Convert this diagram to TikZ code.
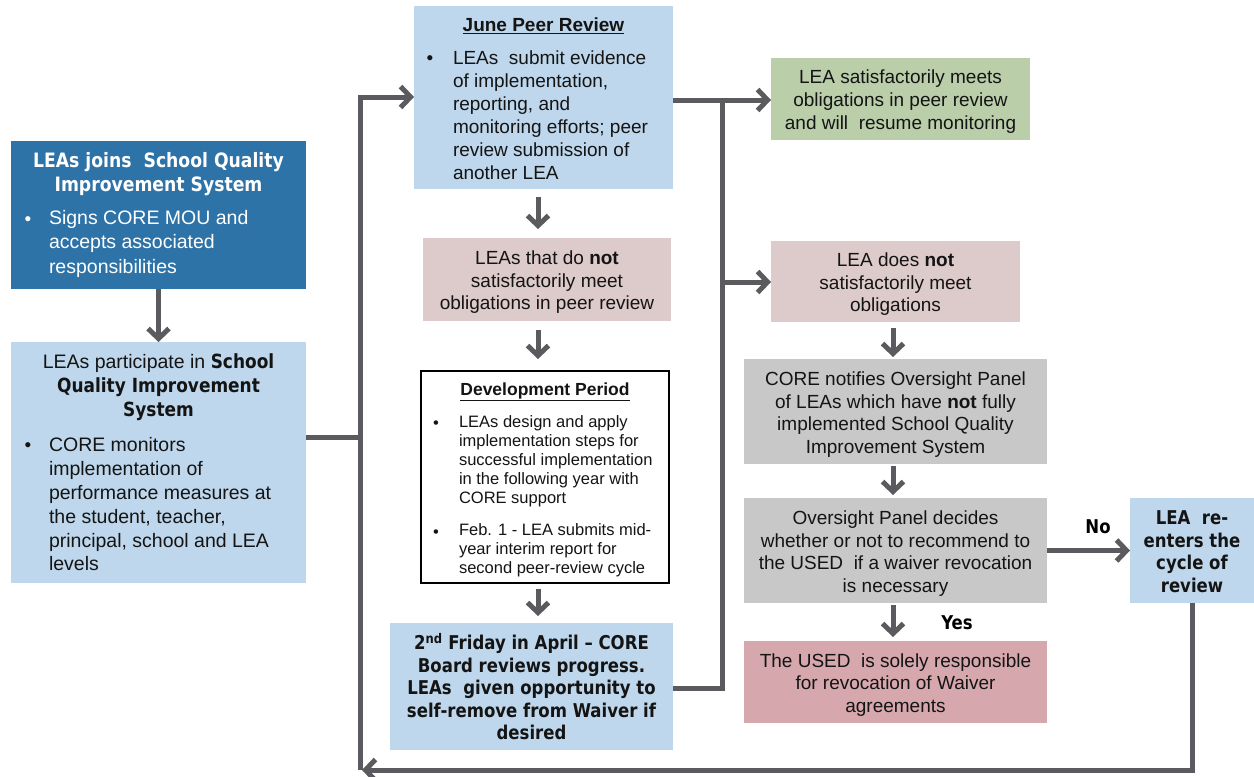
\documentclass[tikz,border=0pt]{standalone}
\usepackage{fontspec}
\setmainfont{Liberation Sans}
\newfontfamily\tahfam{DejaVu Sans}[FakeStretch=0.87]
\newcommand\tahb[1]{{\tahfam\bfseries #1}}
\newcommand\fsr{\rule{0pt}{19.5pt}}
\newcommand\fsb{\rule{0pt}{16.5pt}}
\usetikzlibrary{arrows.meta}
\definecolor{dkblue}{RGB}{46,115,168}
\definecolor{ltblue}{RGB}{190,215,236}
\definecolor{pinkbox}{RGB}{221,202,202}
\definecolor{greenbox}{RGB}{186,206,170}
\definecolor{graybox}{RGB}{200,200,200}
\definecolor{rosebox}{RGB}{214,168,173}
\definecolor{lc}{RGB}{90,90,95}
\definecolor{txt}{RGB}{20,20,20}
\begin{document}
\begin{tikzpicture}[x=1pt,y=-1pt,
  box/.style={draw=none, inner sep=0pt, outer sep=0pt, anchor=north west, align=center, text=txt,
              font=\fontsize{19}{22.5}\selectfont},
  tx/.style={inner sep=0pt, outer sep=0pt, align=center, text=txt, font=\fontsize{19}{23}\selectfont},
  conn/.style={draw=lc, line width=5pt},
  arr/.style={conn, -{Straight Barb[length=10pt,width=21pt]}},
  lbl/.style={inner sep=0pt, text=black, font=\fontsize{19}{23}\selectfont\tahfam\bfseries},
]
\useasboundingbox (0,0) rectangle (1254,777);

% ---------- boxes ----------
\node[box, fill=dkblue, minimum width=295pt, minimum height=148pt] (A) at (11,141) {};
\node[box, fill=ltblue, minimum width=295pt, minimum height=241pt] (B) at (11,342) {};
\node[box, fill=ltblue, minimum width=259pt, minimum height=183pt] (C) at (414,6) {};
\node[box, fill=pinkbox, minimum width=248pt, minimum height=83pt] (D) at (423,238)
  {\fsr LEAs that do \textbf{not}\\satisfactorily meet\\obligations in peer review};
\node[box, fill=white, draw=black, line width=1.3pt, minimum width=248pt, minimum height=212pt] (E) at (421,371) {};
\node[box, fill=ltblue, minimum width=283pt, minimum height=127pt] (F) at (390,623)
  {\fsb\tahb{2\textsuperscript{nd} Friday in April – CORE}\\\tahb{Board reviews progress.}\\\tahb{LEAs\ \ given opportunity to}\\\tahb{self-remove from Waiver if}\\\tahb{desired}};
\node[box, fill=greenbox, minimum width=259pt, minimum height=82pt, font=\fontsize{19}{23}\selectfont] (G) at (771,58)
  {\fsr LEA satisfactorily meets\\obligations in peer review\\and will\ \ resume monitoring};
\node[box, fill=pinkbox, minimum width=249pt, minimum height=81pt] (H) at (771,241)
  {\fsr LEA does \textbf{not}\\satisfactorily meet\\obligations};
\node[box, fill=graybox, minimum width=303pt, minimum height=105pt] (I) at (744,359)
  {\fsr CORE notifies Oversight Panel\\of LEAs which have \textbf{not} fully\\implemented School Quality\\Improvement System};
\node[box, fill=graybox, minimum width=303pt, minimum height=105pt] (J) at (744,498)
  {\fsr Oversight Panel decides\\whether or not to recommend to\\the USED\ \ if a waiver revocation\\is necessary};
\node[box, fill=rosebox, minimum width=303pt, minimum height=82pt] (K) at (744,641)
  {\fsr The USED\ \ is solely responsible\\for revocation of Waiver\\agreements};
\node[box, fill=ltblue, minimum width=124pt, minimum height=105pt] (L) at (1130,498)
  {\fsb\tahb{LEA\ \ re-}\\\tahb{enters the}\\\tahb{cycle of}\\\tahb{review}};

% ---------- texts of bullet boxes ----------
\node[tx, text=white, font=\fontsize{19.8}{23.5}\selectfont] (Atitle) at (158.5,174) {\tahb{LEAs joins\ \ School Quality}\\\tahb{Improvement System}};
\node[tx, text=white, anchor=base] (Adot) at (28,225) {\textbullet};
\node[tx, text=white, align=left, anchor=west, font=\fontsize{19.5}{24.5}\selectfont] (Atext) at (49,243.5)
  {Signs CORE MOU and\\accepts associated\\responsibilities};

\node[tx, font=\fontsize{19.5}{24}\selectfont] (Btitle) at (158.5,387)
  {LEAs participate in \tahb{School}\\\tahb{Quality Improvement}\\\tahb{System}};
\node[tx, anchor=base] (Bdot) at (28,451) {\textbullet};
\node[tx, align=left, anchor=west, font=\fontsize{19.5}{23.8}\selectfont] (Btext) at (49,504.5)
  {CORE monitors\\implementation of\\performance measures at\\the student, teacher,\\principal, school and LEA\\levels};

\node[tx] (Ctitle) at (543.5,26) {\textbf{\underline{June Peer Review}}};
\node[tx, anchor=base] (Cdot) at (430,64) {\textbullet};
\node[tx, align=left, anchor=west] (Ctext) at (453,115.5)
  {LEAs\ \ submit evidence\\of implementation,\\reporting, and\\monitoring efforts; peer\\review submission of\\another LEA};

\node[tx, font=\fontsize{17.5}{21}\selectfont] (Etitle) at (545,392) {\textbf{\underline{Development Period}}};
\node[tx, anchor=base, font=\fontsize{16.5}{19}\selectfont] (Edot1) at (436,428) {\textbullet};
\node[tx, align=left, anchor=west, font=\fontsize{16.5}{19}\selectfont] (Etext1) at (459,461)
  {LEAs design and apply\\implementation steps for\\successful implementation\\in the following year with\\CORE support};
\node[tx, anchor=base, font=\fontsize{16.5}{19}\selectfont] (Edot2) at (436,537) {\textbullet};
\node[tx, align=left, anchor=west, font=\fontsize{16.5}{19}\selectfont] (Etext2) at (459,550.5)
  {Feb. 1 - LEA submits mid-\\year interim report for\\second peer-review cycle};

% ---------- connectors ----------
\coordinate (jt) at (360,97);
\coordinate (jm) at (360,437);
\coordinate (jb) at (360,770);
\draw[conn] (B.east |- jm) -- (jm);
\draw[arr] (jb) -- (jt) -- (C.west |- jt);
\draw[arr] (L.south) -- (L.south |- jb) -- ([xshift=2pt]jb);

\coordinate (rt) at (722,100);
\coordinate (rm) at (722,282);
\coordinate (rb) at (722,688);
\draw[arr] (C.east |- rt) -- (G.west |- rt);
\draw[conn] (F.east |- rb) -- (rb) -- (rt);
\draw[arr] (rm) -- (H.west |- rm);

\coordinate (cx) at (538,0);
\draw[arr] (A.south) -- (B.north);
\draw[arr, shorten <=8pt, shorten >=9pt] (C.south -| cx) -- (D.north -| cx);
\draw[arr, shorten <=9pt, shorten >=12pt] (D.south -| cx) -- (E.north -| cx);
\draw[arr, shorten <=6pt, shorten >=7pt] (E.south -| cx) -- (F.north -| cx);

\coordinate (rx) at (893,0);
\draw[arr, shorten <=6pt, shorten >=2pt] (H.south -| rx) -- (I.north -| rx);
\draw[arr, shorten <=2pt, shorten >=3pt] (I.south -| rx) -- (J.north -| rx);
\draw[arr, shorten <=2pt, shorten >=4pt] (J.south -| rx) -- (K.north -| rx);
\draw[arr] (J.east) -- (L.west);

\node[lbl] (no) at (1098,527) {No};
\node[lbl] (yes) at (957,623) {Yes};
\end{tikzpicture}
\end{document}
